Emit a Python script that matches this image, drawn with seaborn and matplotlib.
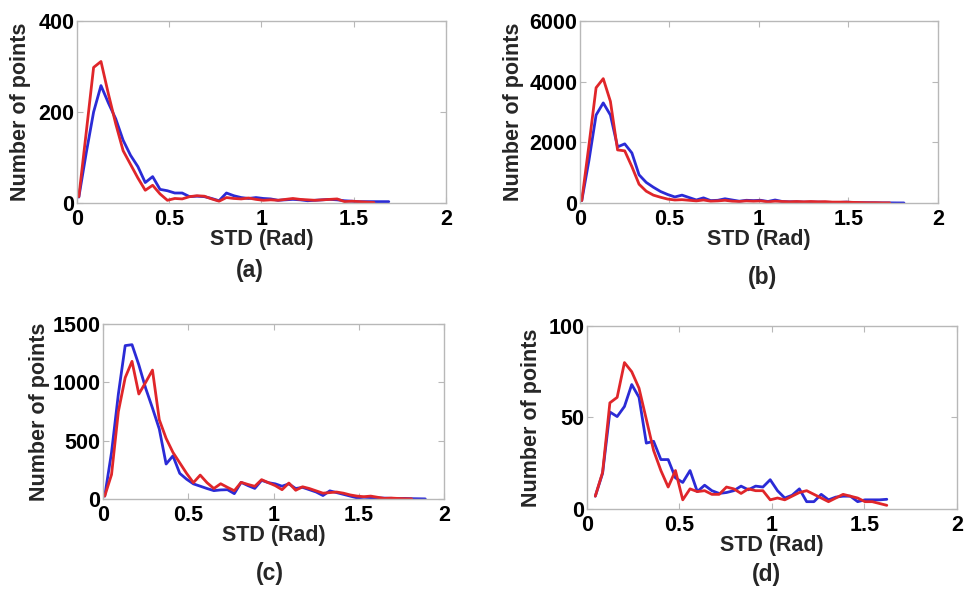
import numpy as np
import pandas as pd
import matplotlib
matplotlib.use("Agg")
import matplotlib.pyplot as plt
import seaborn as sns

# ---------------- data ----------------
# panel (a)
a_red = [14, 155, 298, 311, 240, 174, 115, 85, 55, 28, 39, 20, 6, 10, 9, 14, 16, 15, 9, 4,
         12, 10, 9, 11, 8, 6, 7, 6, 8, 10, 8, 7, 6, 7, 8, 9, 3, 4, 3, 2, 1]
a_blue = [13, 110, 200, 258, 220, 185, 138, 105, 80, 45, 58, 30, 27, 22, 22, 14, 15, 14, 10, 5,
          22, 16, 12, 10, 12, 10, 9, 6, 7, 8, 7, 5, 6, 7, 8, 7, 5, 4, 3, 3, 3, 3, 3]
# panel (b)
b_red = [80, 1900, 3800, 4100, 3350, 1750, 1720, 1200, 620, 390, 260, 190, 130, 100, 110, 90,
         70, 100, 60, 70, 90, 60, 50, 70, 60, 70, 40, 60, 50, 40, 50, 40, 50, 40, 45, 30,
         30, 30, 20, 15, 10, 10, 5, 5]
b_blue = [80, 1400, 2900, 3300, 2900, 1850, 1950, 1650, 930, 680, 520, 380, 280, 200, 260, 180,
          100, 170, 80, 90, 140, 100, 60, 90, 80, 90, 50, 100, 50, 40, 40, 30, 30, 30, 25, 20,
          20, 30, 15, 10, 10, 8, 5, 5, 3, 2]
# panel (c)
c_red = [25, 210, 750, 1040, 1180, 900, 1000, 1105, 680, 520, 400, 310, 220, 140, 205, 140,
         90, 131, 100, 71, 143, 125, 109, 166, 140, 115, 80, 137, 75, 105, 90, 70, 50, 55, 60,
         50, 35, 25, 20, 25, 15, 5, 8, 5, 3, 2]
c_blue = [25, 400, 900, 1315, 1323, 1150, 950, 780, 600, 300, 370, 220, 170, 130, 110, 90,
          72, 78, 80, 46, 143, 115, 91, 160, 140, 130, 110, 130, 90, 100, 80, 60, 30, 70, 55,
          40, 25, 10, 15, 12, 10, 8, 6, 4, 5, 3, 2, 1]
# panel (d)
d_red = [7, 20, 58, 61, 80, 75, 66, 49, 32, 21, 12, 21, 5, 11, 9.5, 10, 8, 8, 12, 11,
         8.5, 11, 10, 10, 5, 6, 5, 7, 9, 10, 8, 6, 4, 6, 8, 7, 6, 4, 4, 3, 2]
d_blue = [7, 19.5, 53, 50.5, 56, 68, 61, 36, 37, 27, 27, 17, 14.5, 21, 9.5, 13, 10, 8.5, 9, 10,
          12.5, 10.5, 12.5, 12, 16, 10, 6, 7.5, 11, 4, 4, 8, 5, 6.5, 7, 7, 4, 5, 5, 5, 5.3]

panels = [
    ("(a)", a_red, a_blue, 0.01, 0.04, [0, 200, 400]),
    ("(b)", b_red, b_blue, 0.01, 0.04, [0, 2000, 4000, 6000]),
    ("(c)", c_red, c_blue, 0.01, 0.04, [0, 500, 1000, 1500]),
    ("(d)", d_red, d_blue, 0.045, 0.0394, [0, 50, 100]),
]
x_ticks = [0, 0.5, 1, 1.5, 2]
x_tick_labels = ["0", "0.5", "1", "1.5", "2"]

# ---------------- style ----------------
sns.set_style("white")
plt.rcParams["font.family"] = ["Liberation Sans", "DejaVu Sans"]
plt.rcParams["font.weight"] = "bold"

RED = "#e0262a"
BLUE = "#2b2bd6"
GRAY = "#b8b8b8"

fig = plt.figure(figsize=(9.71, 5.90), dpi=100)

rects = [
    [0.0793, 0.6559, 0.3800, 0.3085],
    [0.5973, 0.6559, 0.3687, 0.3085],
    [0.1061, 0.1542, 0.3512, 0.2966],
    [0.6045, 0.1373, 0.3810, 0.3102],
]
# label positions in axes fraction: (ylabel x, xlabel y, letter x, letter y)
label_pos = [
    (-0.154, -0.198, 0.469, -0.368),
    (-0.187, -0.203, 0.511, -0.407),
    (-0.185, -0.206, 0.490, -0.423),
    (-0.149, -0.197, 0.486, -0.360),
]

for (letter, red, blue, x0, dx, yt), rect, lp in zip(panels, rects, label_pos):
    ax = fig.add_axes(rect)
    xr = x0 + dx * np.arange(len(red))
    xb = x0 + dx * np.arange(len(blue))
    df = pd.concat([
        pd.DataFrame({"x": xb, "y": blue, "s": "blue"}),
        pd.DataFrame({"x": xr, "y": red, "s": "red"}),
    ])
    sns.lineplot(data=df, x="x", y="y", hue="s", palette={"blue": BLUE, "red": RED},
                 linewidth=2.0, legend=False, ax=ax, estimator=None, sort=False)
    ax.set_xlim(0, 2)
    ax.set_ylim(yt[0], yt[-1])
    ax.set_xticks(x_ticks)
    ax.set_xticklabels(x_tick_labels)
    ax.set_yticks(yt)
    ax.set_yticklabels([str(v) for v in yt])
    for sp in ax.spines.values():
        sp.set_visible(True)
        sp.set_color(GRAY)
        sp.set_linewidth(1.0)
    ax.tick_params(axis="both", which="both", direction="in", length=4, width=0.8,
                   color=GRAY, labelsize=15.5, top=True, right=True,
                   bottom=True, left=True, labelcolor="black")
    ax.tick_params(axis="x", pad=4)
    ax.tick_params(axis="y", pad=2)
    for lab in ax.get_xticklabels() + ax.get_yticklabels():
        lab.set_fontweight("bold")

    ax.set_xlabel("STD (Rad)", fontsize=15.5, fontweight="bold")
    ax.set_ylabel("Number of points", fontsize=15.5, fontweight="bold")
    ax.xaxis.set_label_coords(0.5, lp[1])
    ax.xaxis.label.set_va("center")
    ax.yaxis.set_label_coords(lp[0], 0.5)
    ax.yaxis.label.set_va("center")
    ax.text(lp[2], lp[3], letter, transform=ax.transAxes, ha="center", va="center",
            fontsize=16.5, fontweight="bold")

fig.savefig("out.png", dpi=100, facecolor="white")
